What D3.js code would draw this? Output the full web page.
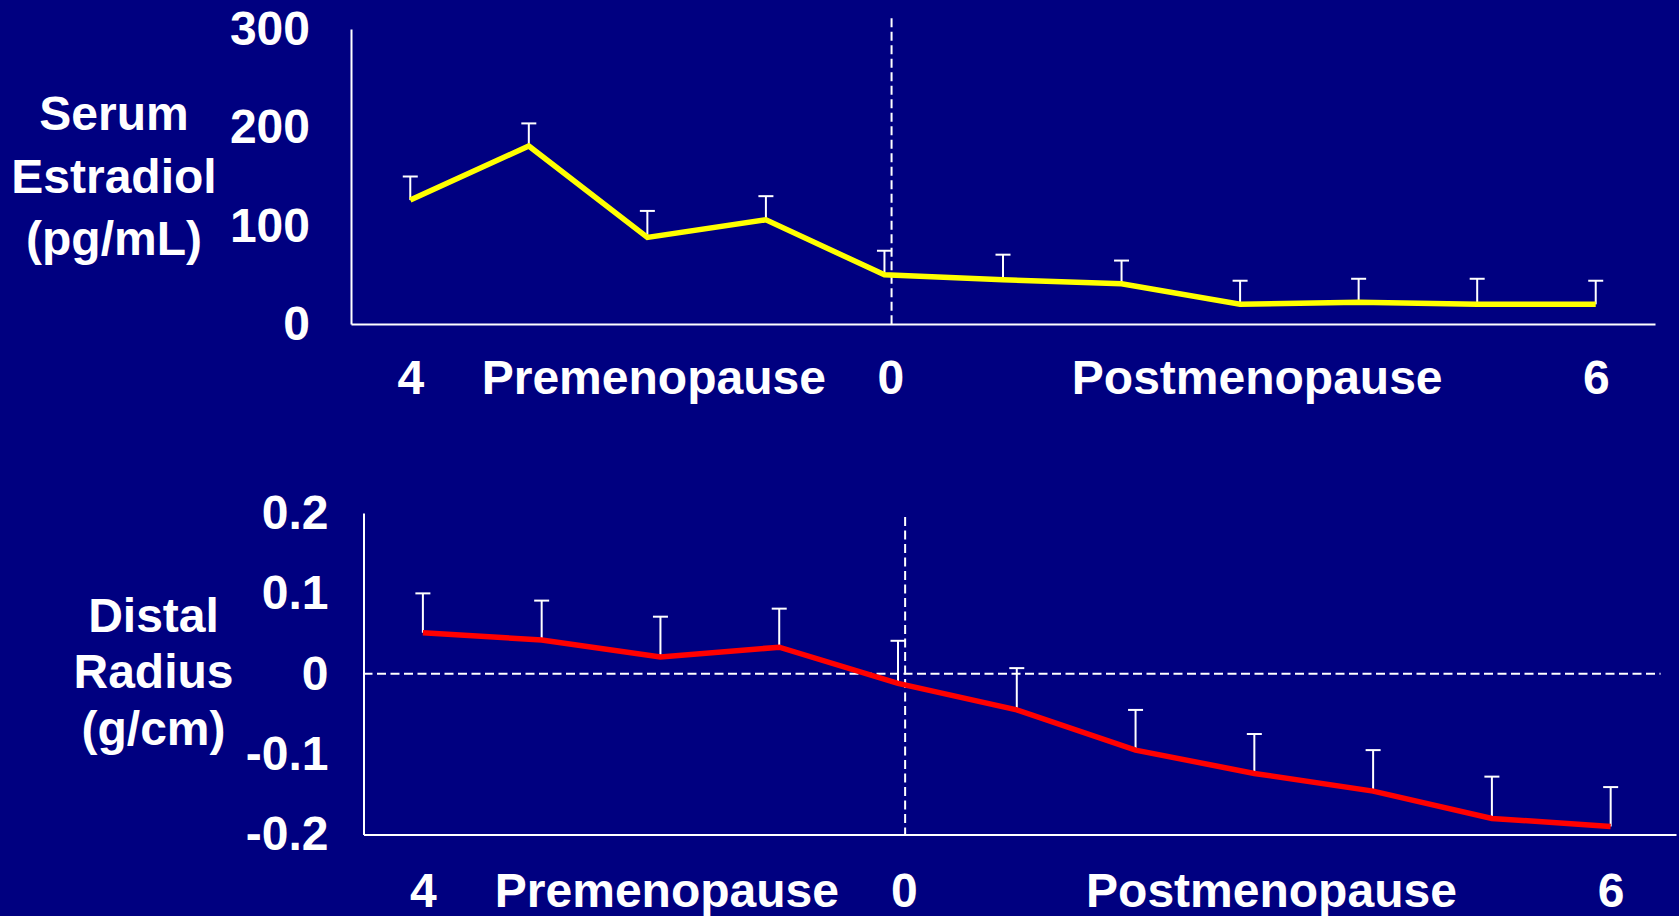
<!DOCTYPE html>
<html>
<head>
<meta charset="utf-8">
<script src="https://cdn.jsdelivr.net/npm/d3@7/dist/d3.min.js"></script>
<style>
  html, body { margin: 0; padding: 0; background: #000080; }
  svg { display: block; }
  text { font-family: "Liberation Sans", Arial, sans-serif; font-weight: bold; fill: #ffffff; }
</style>
</head>
<body>
<svg id="chart" width="1679" height="916"></svg>
<script>
// ---- Data ----
const years = [-4, -3, -2, -1, 0, 1, 2, 3, 4, 5, 6];
const estradiol = [126, 181, 88, 106, 50, 45, 41, 20, 22, 20, 20];
const estradiolUpper = [150, 204, 115, 130, 74.5, 70.5, 64.5, 44, 46, 46, 44];
const radius = [0.051, 0.042, 0.021, 0.033, -0.012, -0.045, -0.095, -0.124, -0.146, -0.180, -0.190];
const radiusUpper = [0.100, 0.091, 0.071, 0.081, 0.041, 0.007, -0.045, -0.075, -0.095, -0.128, -0.141];

const estradiolTicks = [0, 100, 200, 300];
const radiusTicks = [-0.2, -0.1, 0, 0.1, 0.2];
const radiusTickLabels = ["-0.2", "-0.1", "0", "0.1", "0.2"];
const xTickValues = [-4, -1.95, 0.05, 3.14, 6];
const xTickLabels = ["4", "Premenopause", "0", "Postmenopause", "6"];
const menopauseYear = 0.06;
const estradiolTitle = ["Serum", "Estradiol", "(pg/mL)"];
const radiusTitle = ["Distal", "Radius", "(g/cm)"];

// ---- Drawing ----
const svg = d3.select("#chart");
const FONT = 48;

function panel(cfg) {
  const g = svg.append("g");
  const x = d3.scaleLinear().domain(cfg.xDomain).range(cfg.xRange);
  const y = d3.scaleLinear().domain(cfg.yDomain).range(cfg.yRange);

  // y axis
  const ya = g.append("g")
    .attr("transform", `translate(${cfg.xRange[0]},0)`)
    .call(d3.axisLeft(y).tickValues(cfg.yTicks).tickFormat((d, i) => cfg.yLabels[i]).tickSize(0).tickPadding(cfg.yPad));
  ya.select(".domain").attr("stroke", "#fff").attr("stroke-width", 2);
  ya.selectAll("text").attr("fill", "#fff").style("font-size", FONT + "px").attr("font-family", null);

  // x axis
  const xa = g.append("g")
    .attr("transform", `translate(0,${cfg.yRange[0]})`)
    .call(d3.axisBottom(x).tickValues(xTickValues).tickFormat((d, i) => xTickLabels[i]).tickSize(0).tickPadding(cfg.xPad));
  xa.select(".domain").attr("stroke", "#fff").attr("stroke-width", 2);
  xa.selectAll("text").attr("fill", "#fff").style("font-size", FONT + "px").attr("font-family", null);

  // horizontal zero dashed line
  if (cfg.zeroLineEnd !== undefined) {
    g.append("line")
      .attr("x1", x(cfg.xDomain[0])).attr("x2", x(cfg.zeroLineEnd))
      .attr("y1", y(0)).attr("y2", y(0))
      .attr("stroke", "#fff").attr("stroke-width", 2).attr("stroke-dasharray", "9,4.5");
  }
  // vertical menopause dashed line
  g.append("line")
    .attr("x1", x(menopauseYear)).attr("x2", x(menopauseYear))
    .attr("y1", y(cfg.vTop)).attr("y2", y(cfg.yDomain[0]))
    .attr("stroke", "#fff").attr("stroke-width", 2).attr("stroke-dasharray", "9,4.5");

  // error bars
  const idx = d3.range(years.length);
  g.selectAll(".eb").data(idx).join("line")
    .attr("x1", i => x(years[i])).attr("x2", i => x(years[i]))
    .attr("y1", i => y(cfg.values[i])).attr("y2", i => y(cfg.upper[i]))
    .attr("stroke", "#fff").attr("stroke-width", 2);
  g.selectAll(".cap").data(idx).join("line")
    .attr("x1", i => x(years[i]) - 7.5).attr("x2", i => x(years[i]) + 7.5)
    .attr("y1", i => y(cfg.upper[i])).attr("y2", i => y(cfg.upper[i]))
    .attr("stroke", "#fff").attr("stroke-width", 2);

  // line
  g.append("path")
    .datum(idx)
    .attr("fill", "none")
    .attr("stroke", cfg.color)
    .attr("stroke-width", 5.5)
    .attr("stroke-linejoin", "miter")
    .attr("d", d3.line().x(i => x(years[i])).y(i => y(cfg.values[i])));

  // title
  const t = g.append("text").attr("text-anchor", "middle").style("font-size", FONT + "px");
  cfg.title.forEach((s, k) => {
    t.append("tspan").attr("x", cfg.titleX).attr("y", cfg.titleY + k * cfg.titleStep).text(s);
  });
}

panel({
  xDomain: [-4.5, 6.5], xRange: [351, 1655],
  yDomain: [0, 300], yRange: [324, 29],
  yTicks: estradiolTicks, yLabels: estradiolTicks.map(String),
  yPad: 41, xPad: 36,
  vTop: 311,
  values: estradiol, upper: estradiolUpper,
  color: "#ffff00",
  title: estradiolTitle, titleX: 114, titleY: 130, titleStep: 62.5
});

panel({
  xDomain: [-4.5, 6.55], xRange: [363.5, 1676],
  yDomain: [-0.2, 0.2], yRange: [834.5, 513],
  yTicks: radiusTicks, yLabels: radiusTickLabels,
  yPad: 35, xPad: 38,
  vTop: 0.195, zeroLineEnd: 6.42,
  values: radius, upper: radiusUpper,
  color: "#ff0000",
  title: radiusTitle, titleX: 153.5, titleY: 631.7, titleStep: 56.7
});
</script>
</body>
</html>
